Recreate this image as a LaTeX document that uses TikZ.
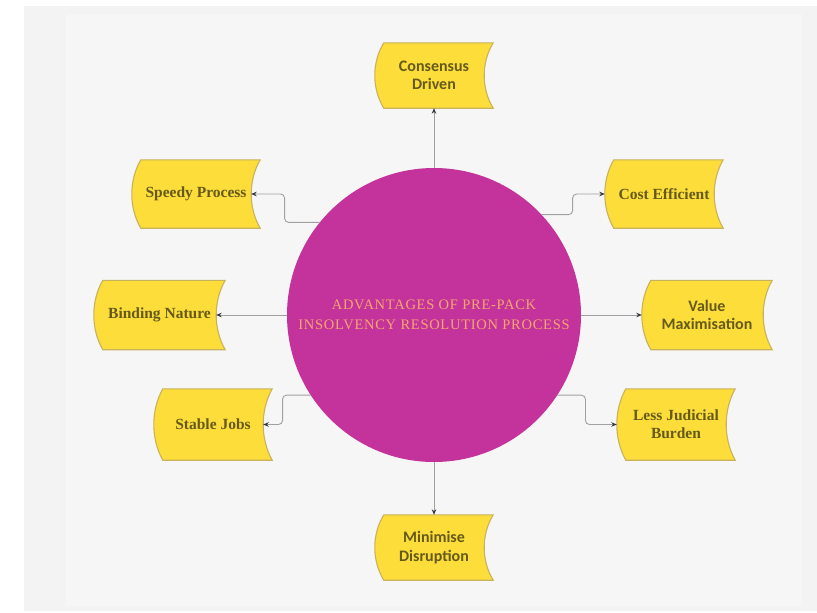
\documentclass[tikz,border=0pt]{standalone}
\usepackage{fontspec}
\setmainfont{Liberation Serif}
\newfontfamily\boxsans{Carlito}
\newfontfamily\circfont[LetterSpace=5]{Liberation Serif}
\usetikzlibrary{arrows.meta,calc,backgrounds}
\definecolor{panelc}{HTML}{F3F3F3}
\definecolor{panelin}{HTML}{F6F6F6}
\definecolor{boxfill}{HTML}{FCDD3A}
\definecolor{boxline}{HTML}{C9B25C}
\definecolor{boxtext}{HTML}{655A1C}
\definecolor{circfill}{HTML}{C4339B}
\definecolor{circtext}{HTML}{F4A66C}
\definecolor{connc}{HTML}{A0A0A0}
\definecolor{tipc}{HTML}{333842}
\tikzset{
  box/.style 2 args={minimum width=#1, minimum height=#2, inner sep=0pt, align=center,
    text=boxtext, font=\fontsize{15.5}{18}\selectfont\bfseries},
  sansbox/.style={font=\boxsans\fontsize{16}{18.5}\selectfont\bfseries},
  boxshape/.style={fill=boxfill, draw=boxline, line width=1.1pt},
  hub/.style={circle, fill=circfill, minimum size=294, inner sep=0pt, align=center,
    text=circtext, font=\circfont\fontsize{14.5}{20}\selectfont},
  link/.style={draw=connc, line width=0.9pt, rounded corners=4pt,
    -{Stealth[length=5.5pt,width=4.5pt,color=tipc]}}
}
\begin{document}
\begin{tikzpicture}[x=1pt,y=-1pt]
\useasboundingbox (0,0) rectangle (817,613);
% hub
\node[hub] (c) at (434,315) {ADVANTAGES OF PRE-PACK\\INSOLVENCY RESOLUTION PROCESS};
% boxes
\node[box={118}{65},sansbox] (cons) at (434,75.5) {Consensus\\Driven};
\node[box={128}{68}] (spd) at (196,194) {Speedy Process};
\node[box={118}{68}] (cost) at (664,194) {Cost Efficient};
\node[box={131}{69}] (bind) at (159.5,315) {Binding Nature};
\node[box={130}{69},sansbox] (val) at (707,315) {Value\\Maximisation};
\node[box={118}{71}] (stab) at (213,424.5) {Stable Jobs};
\node[box={118}{71}] (less) at (676,424.5) {Less Judicial\\Burden};
\node[box={118}{65},sansbox] (mini) at (434,547.5) {Minimise\\Disruption};
% background and box shapes
\begin{scope}[on background layer]
  \fill[white] (0,0) rectangle (817,613);
  \fill[panelc] (24,6) rectangle (817,611);
  \fill[panelin] (66,14) rectangle (802,606);
  \foreach \n in {cons,spd,cost,bind,val,stab,less,mini}{
    \path[boxshape] ([xshift=9pt]\n.north west) -- (\n.north east)
      .. controls ($(\n.north east)!0.3!(\n.south east)+(-12,0)$)
         and ($(\n.north east)!0.7!(\n.south east)+(-12,0)$) .. (\n.south east)
      -- ([xshift=9pt]\n.south west)
      .. controls ($(\n.north west)!0.7!(\n.south west)+(-3,0)$)
         and ($(\n.north west)!0.3!(\n.south west)+(-3,0)$) .. ([xshift=9pt]\n.north west)
      -- cycle;
  }
\end{scope}
% connectors
\draw[link] (c.north) -- (cons.south);
\draw[link] (c.south) -- (mini.north);
\draw[link] (c.west) -- ([xshift=-9pt]bind.east);
\draw[link] (c.east) -- (val.west);
\draw[link] (c.141) -- ++(-35,0) |- ([xshift=-9pt]spd.east);
\draw[link] (c.43) -- ++(31,0) |- (cost.west);
\draw[link] (c.213) -- ++(-28,0) |- ([xshift=-9pt]stab.east);
\draw[link] (c.-33) -- ++(28,0) |- (less.west);
\end{tikzpicture}
\end{document}
